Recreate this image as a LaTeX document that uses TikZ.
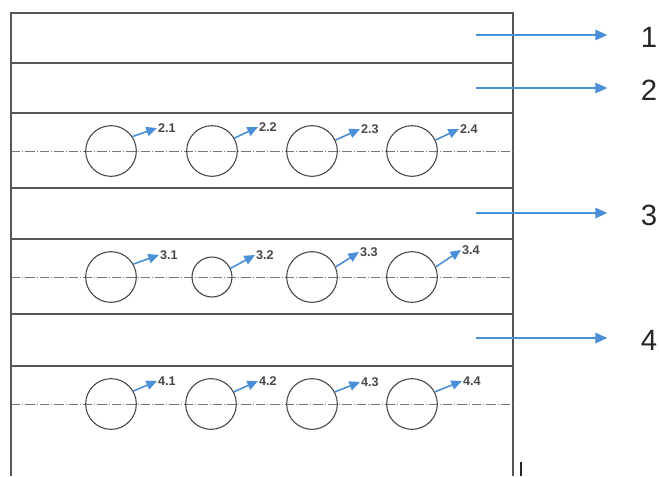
\documentclass[tikz,border=0pt]{standalone}
\usepackage{fontspec}
\setmainfont{Liberation Sans}
\usetikzlibrary{arrows.meta}
\definecolor{linha}{HTML}{555555}
\definecolor{furo}{HTML}{444444}
\definecolor{fluxo}{HTML}{4A8FD8}
\begin{document}
\begin{tikzpicture}[
  x=0.75pt, y=-0.75pt,
  camada/.style={draw=linha, line width=1.1pt},
  eixo/.style={draw=linha!80, line width=0.45pt, dash pattern=on 7pt off 1.6pt on 0.6pt off 1.6pt},
  furo/.style={circle, draw=furo, line width=0.8pt, minimum size=38pt, inner sep=0pt},
  furopeq/.style={furo, minimum size=30pt},
  rotulo/.style={font=\fontsize{9.5}{11}\selectfont\bfseries, text=black!72, anchor=west, inner sep=0.6pt},
  numero/.style={font=\fontsize{22}{26}\selectfont, text=black!85, inner sep=0pt},
  seta/.style={-{Triangle[length=8pt, width=7pt]}, draw=fluxo, fill=fluxo, line width=1.2pt},
  setalonga/.style={-{Triangle[length=9pt, width=8pt]}, draw=fluxo, fill=fluxo, line width=0.8pt, shorten >=25pt}
]
\useasboundingbox (0,0) rectangle (659,476);
% frame and layers
\draw[camada] (11,476) -- (11,13) -- (513,13) -- (513,476);
\draw[camada] (11,63) -- (513,63);
\draw[camada] (11,113) -- (513,113);
\draw[camada] (11,188) -- (513,188);
\draw[camada] (11,239) -- (513,239);
\draw[camada] (11,314) -- (513,314);
\draw[camada] (11,366) -- (513,366);
\draw[black!85, line width=0.8pt] (521,462) -- (521,476);
% axes
\draw[eixo] (11,151) -- (513,151);
\draw[eixo] (11,277) -- (513,277);
\draw[eixo] (11,404) -- (513,404);
% row 2
\node[furo] (f21) at (111,151) {};
\node[furo] (f22) at (212,151) {};
\node[furo] (f23) at (312,151) {};
\node[furo] (f24) at (412,151) {};
\node[rotulo] (r21) at (157,128) {2.1};
\node[rotulo] (r22) at (258,127) {2.2};
\node[rotulo] (r23) at (360,129) {2.3};
\node[rotulo] (r24) at (459,129) {2.4};
\draw[seta] (f21.34) -- (r21.west);
\draw[seta] (f22.30) -- (r22.west);
\draw[seta] (f23.25) -- (r23.west);
\draw[seta] (f24.25) -- (r24.west);
% row 3
\node[furo] (f31) at (111,277) {};
\node[furopeq] (f32) at (212,277) {};
\node[furo] (f33) at (312,277) {};
\node[furo] (f34) at (412,277) {};
\node[rotulo] (r31) at (159,255) {3.1};
\node[rotulo] (r32) at (255,255) {3.2};
\node[rotulo] (r33) at (359,252) {3.3};
\node[rotulo] (r34) at (461,250) {3.4};
\draw[seta] (f31.30) -- (r31.west);
\draw[seta] (f32.25) -- (r32.west);
\draw[seta] (f33.23) -- (r33.west);
\draw[seta] (f34.23) -- (r34.west);
% row 4
\node[furo] (f41) at (111,404) {};
\node[furo] (f42) at (211,404) {};
\node[furo] (f43) at (312,404) {};
\node[furo] (f44) at (412,404) {};
\node[rotulo] (r41) at (157,381) {4.1};
\node[rotulo] (r42) at (258,381) {4.2};
\node[rotulo] (r43) at (360,382) {4.3};
\node[rotulo] (r44) at (462,381) {4.4};
\draw[seta] (f41.30) -- (r41.west);
\draw[seta] (f42.28) -- (r42.west);
\draw[seta] (f43.28) -- (r43.west);
\draw[seta] (f44.28) -- (r44.west);
% layer numbers
\coordinate (c1) at (476,35);
\coordinate (c2) at (476,88);
\coordinate (c3) at (476,213);
\coordinate (c4) at (476,338);
\node[numero] (n1) at (649,37) {1};
\node[numero] (n2) at (649,90) {2};
\node[numero] (n3) at (649,215) {3};
\node[numero] (n4) at (649,340) {4};
\draw[setalonga] (c1) -- (c1 -| n1.west);
\draw[setalonga] (c2) -- (c2 -| n2.west);
\draw[setalonga] (c3) -- (c3 -| n3.west);
\draw[setalonga] (c4) -- (c4 -| n4.west);
\end{tikzpicture}
\end{document}
